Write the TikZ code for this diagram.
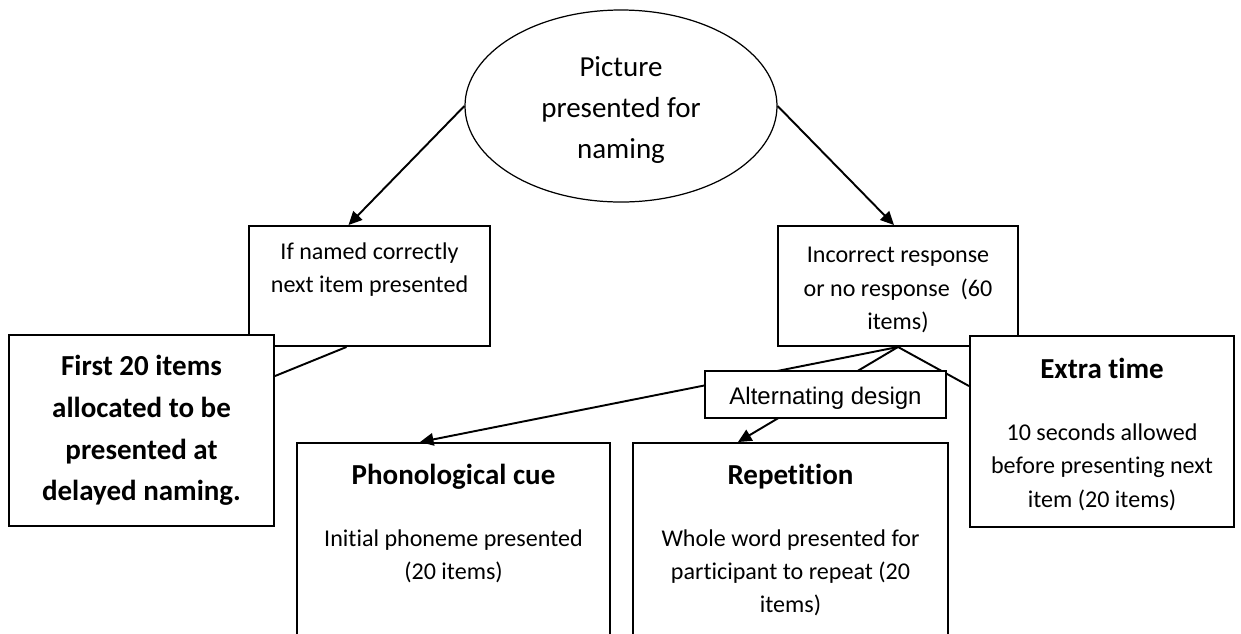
\documentclass[tikz,border=0pt]{standalone}
\usepackage{fontspec}
\setmainfont{Carlito}[Ligatures=NoCommon]
\newfontfamily\arialfont{Liberation Sans}
\usetikzlibrary{arrows.meta,shapes.geometric}
\newcommand{\cuehead}{\bfseries\fontsize{16.5}{23.7}\selectfont\rule{0pt}{15pt}}

\begin{document}
\begin{tikzpicture}[
    box/.style={draw, line width=1.1pt, fill=white, inner sep=0pt, align=center,
      font=\fontsize{13.7}{19}\selectfont},
    link/.style={line width=1.1pt},
    arr/.style={link, -{Triangle[length=0.27cm,width=0.25cm]}}
  ]
  \useasboundingbox (0,0) rectangle (24.82,-12.66);
  \clip (0,0) rectangle (24.82,-12.66);
  \node[ellipse, draw, line width=0.7pt, minimum width=6.24cm, minimum height=3.84cm, inner sep=0pt,
        align=center, font=\fontsize{16.5}{23.3}\selectfont] (pic) at (12.42,-2.12) {\strut Picture\\presented for\\naming};
  \node[box, minimum width=4.82cm, minimum height=2.4cm] (named) at (7.39,-5.72) {\strut If named correctly\\next item presented\\\strut};
  \node[box, minimum width=4.8cm, minimum height=2.4cm] (wrong) at (17.96,-5.72) {\strut Incorrect response\\or no response~ (60\\items)};
  \node[box, minimum width=5.3cm, minimum height=3.82cm, font=\bfseries\fontsize{16.5}{23.7}\selectfont] (delay) at (2.83,-8.61) {First 20 items\\allocated to be\\presented at\\delayed naming.};
  \node[box, minimum width=5.28cm, minimum height=3.82cm] (extra) at (22.04,-8.63) {{\cuehead Extra time}\\[16pt]10 seconds allowed\\before presenting next\\item (20 items)};
  \node[box, minimum width=6.26cm, minimum height=3.9cm] (phon) at (9.07,-10.81) {{\cuehead Phonological cue}\\[16pt]Initial phoneme presented\\(20 items)\\\strut};
  \node[box, minimum width=6.3cm, minimum height=3.9cm] (rep) at (15.81,-10.81) {{\cuehead Repetition}\\[16pt]Whole word presented for\\participant to repeat (20\\items)\strut};
  \draw[arr] (pic.west) -- ([xshift=-0.42cm]named.north);
  \draw[arr] (pic.east) -- ([xshift=-0.08cm]wrong.north);
  \draw[link] ([xshift=-0.46cm]named.south) -- ([yshift=-0.84cm]delay.north east);
  \draw[arr] (wrong.south) -- ([xshift=-0.67cm]phon.north);
  \draw[arr] (wrong.south) -- ([xshift=-1.05cm]rep.north);
  \draw[link] (wrong.south) -- ([yshift=-1.02cm]extra.north west);
  \node[box, minimum width=4.82cm, minimum height=0.94cm, font=\arialfont\fontsize{13.66}{16}\selectfont] (alt) at (16.51,-7.89) {\rule{0pt}{14.5pt}Alternating design};
\end{tikzpicture}
\end{document}
